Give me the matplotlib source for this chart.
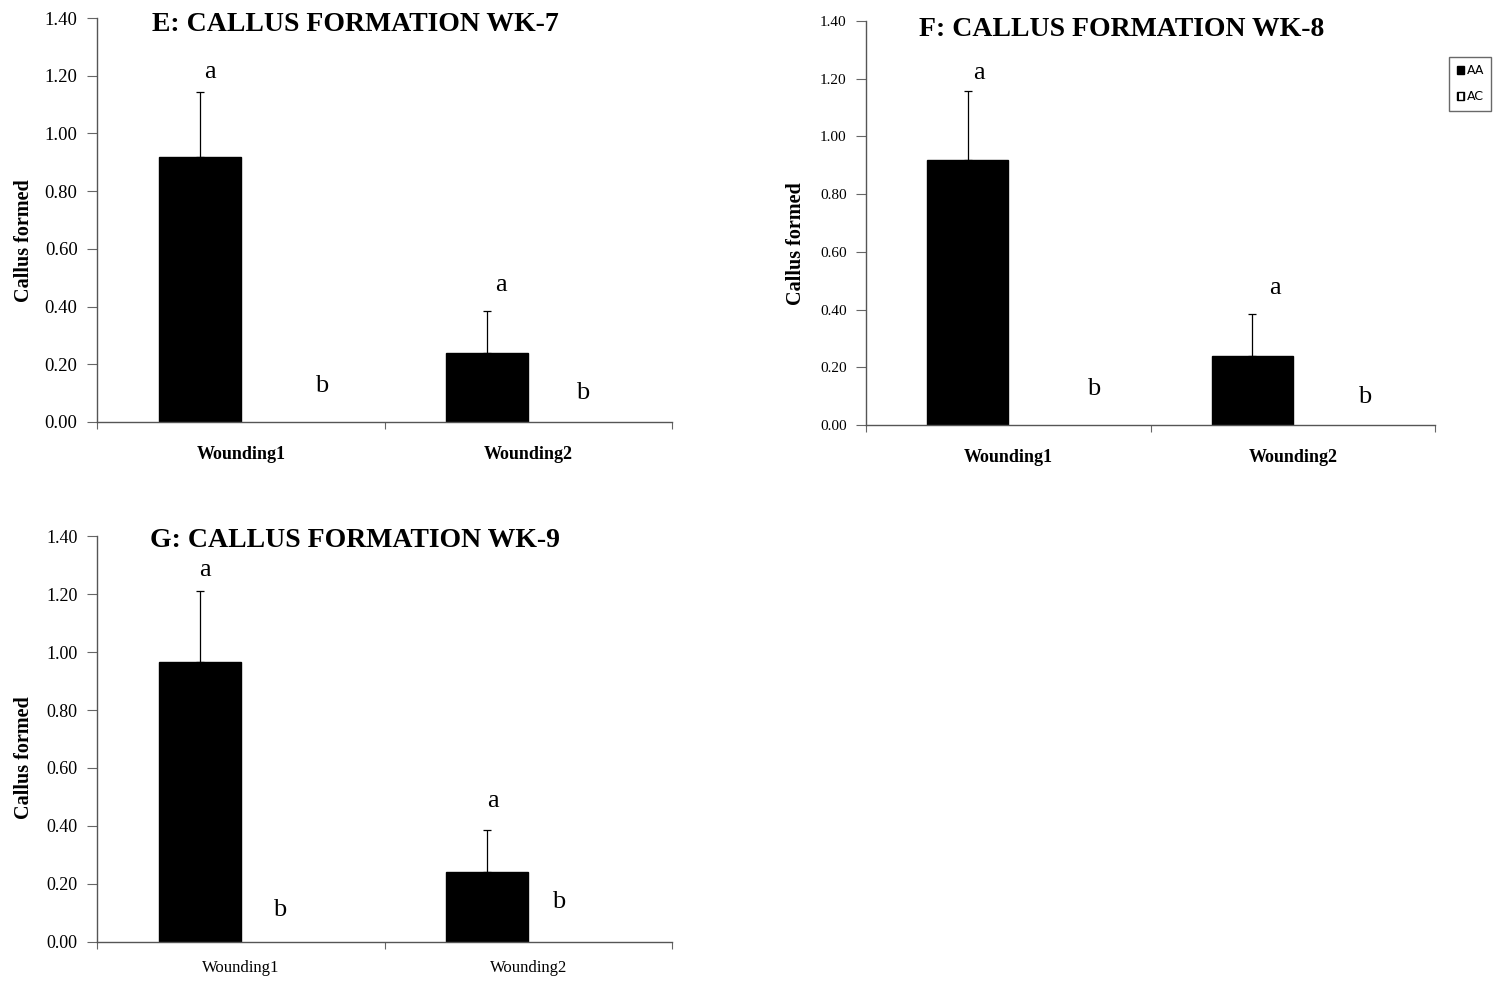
import numpy as np
import matplotlib.pyplot as plt
from matplotlib.patches import Patch

# --- data ---
categories = ['Wounding1', 'Wounding2']
titles = ['E: CALLUS FORMATION WK-7', 'F: CALLUS FORMATION WK-8', 'G: CALLUS FORMATION WK-9']

aa_means = [[0.92, 0.24], [0.92, 0.24], [0.965, 0.24]]
aa_err = [[0.225, 0.145], [0.237, 0.145], [0.245, 0.145]]
ac_means = [[0.0, 0.0], [0.0, 0.0], [0.0, 0.0]]

# significance letters per panel: AA W1, AC W1, AA W2, AC W2
letters = [['a', 'b', 'a', 'b'], ['a', 'b', 'a', 'b'], ['a', 'b', 'a', 'b']]

# where the letters sit (data coords, x, y)
letter_pos = [
    [(0.392, 1.213), (0.781, 0.125), (1.406, 0.475), (1.688, 0.10)],
    [(0.397, 1.22), (0.801, 0.125), (1.438, 0.475), (1.754, 0.097)],
    [(0.375, 1.283), (0.635, 0.11), (1.378, 0.486), (1.604, 0.138)],
]

plt.rcParams['font.family'] = ['Liberation Serif', 'DejaVu Serif']

fig = plt.figure(figsize=(14.95, 9.85), dpi=100)

# axes rectangles in figure fraction [left, bottom, width, height]
rects = [
    [0.0649, 0.5716, 0.3846, 0.4101],
    [0.5793, 0.5685, 0.3806, 0.4102],
    [0.0649, 0.0437, 0.3846, 0.4121],
]
tick_size = [13.5, 11, 13]
xlab_size = [13, 13, 12]
xlab_pad = [17, 17, 13]
xlab_bold = ['bold', 'bold', 'normal']
title_y = [0.995, 0.99, 1.0]
ylab_xy = [(-0.110, 0.45), (-0.105, 0.45), (-0.110, 0.453)]

bar_w = 0.285
off_aa = 0.358
off_ac = 0.642

for i, rect in enumerate(rects):
    ax = fig.add_axes(rect)
    x = np.arange(len(categories))
    ax.bar(x + off_aa, aa_means[i], bar_w, color='black', edgecolor='black',
           yerr=[np.zeros(2), aa_err[i]], capsize=3,
           error_kw=dict(elinewidth=0.9, capthick=0.9, ecolor='black'))
    ax.bar(x + off_ac, ac_means[i], bar_w, color='white', edgecolor='black', linewidth=0.5)

    for t, (lx, ly) in zip(letters[i], letter_pos[i]):
        ax.text(lx, ly, t, ha='center', va='center', fontsize=19)

    ax.set_xlim(0, 2)
    ax.set_ylim(0, 1.4)
    ax.set_yticks(np.arange(0, 1.41, 0.2))
    ax.set_yticklabels([f'{v:.2f}' for v in np.arange(0, 1.41, 0.2)], fontsize=tick_size[i])
    ax.set_xticks([0, 1, 2])
    ax.set_xticklabels([])
    ax.set_xticks(x + 0.5, minor=True)
    ax.set_xticklabels(categories, minor=True, fontsize=xlab_size[i], fontweight=xlab_bold[i])
    ax.tick_params(axis='x', which='minor', length=0, pad=xlab_pad[i])
    ax.tick_params(axis='x', which='major', length=5, color='#666666')
    ax.tick_params(axis='y', length=7, color='#666666', pad=7)

    for s in ['top', 'right']:
        ax.spines[s].set_visible(False)
    for s in ['left', 'bottom']:
        ax.spines[s].set_color('#555555')
        ax.spines[s].set_linewidth(1.0)

    ax.set_ylabel('Callus formed', fontsize=14.5, fontweight='bold')
    ax.yaxis.set_label_coords(*ylab_xy[i])
    ax.set_title(titles[i], fontsize=20, fontweight='bold', x=0.449, y=title_y[i], va='top')

handles = [Patch(facecolor='black', edgecolor='black', label='AA'),
           Patch(facecolor='white', edgecolor='black', hatch='|||', label='AC')]
fig.legend(handles=handles, loc='upper left', bbox_to_anchor=(1449 / 1495, 1 - 57 / 985),
           prop={'family': 'DejaVu Sans', 'size': 9}, frameon=True, fancybox=False,
           edgecolor='#444444', handlelength=0.6, handleheight=0.6, handletextpad=0.2,
           borderpad=0.6, labelspacing=1.0, borderaxespad=0)

fig.savefig('out.png', dpi=100)
